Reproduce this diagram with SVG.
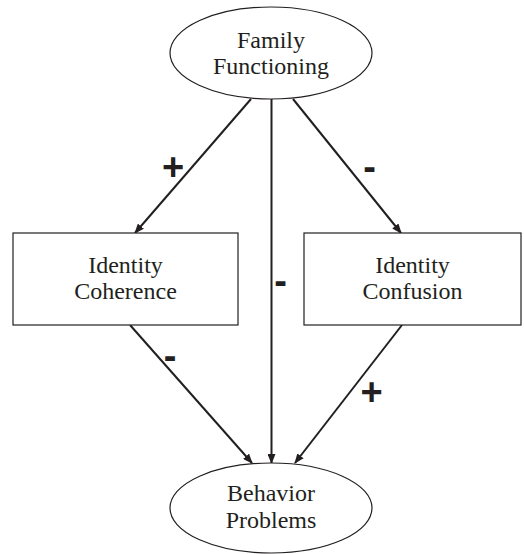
<svg xmlns="http://www.w3.org/2000/svg" width="524" height="554" viewBox="0 0 524 554">
<style>
.shape{fill:#fff;stroke:#231f20;stroke-width:1.2}
.lbl{font-family:"Liberation Serif","Times New Roman",serif;font-size:24px;fill:#231f20;text-anchor:middle}
.sign{font-family:"Liberation Sans",Arial,sans-serif;font-weight:bold;font-size:38px;fill:#231f20;text-anchor:middle}
.conn{stroke:#231f20;stroke-width:2;fill:none;marker-end:url(#ah)}
</style>
<defs>
<marker id="ah" markerWidth="10" markerHeight="8" refX="9" refY="4" orient="auto" markerUnits="userSpaceOnUse">
<path d="M0,0 L10,4 L0,8 Z" fill="#231f20"/>
</marker>
</defs>
<rect width="524" height="554" fill="#fff"/>
<g id="connectors">
<line class="conn" x1="251" y1="99" x2="135" y2="233"/>
<line class="conn" x1="271.5" y1="99" x2="271.5" y2="463"/>
<line class="conn" x1="293" y1="99" x2="401" y2="233"/>
<line class="conn" x1="130" y1="325" x2="252" y2="463"/>
<line class="conn" x1="402" y1="325" x2="295" y2="463"/>
</g>
<g id="labels">
<text class="sign" x="173" y="180">+</text>
<text class="sign" x="369.5" y="180">-</text>
<text class="sign" x="280.5" y="294">-</text>
<text class="sign" x="170" y="369">-</text>
<text class="sign" x="371.5" y="405">+</text>
</g>
<g id="family">
<ellipse class="shape" cx="271" cy="53" rx="101" ry="46"/>
<text class="lbl" x="271" y="48">Family</text>
<text class="lbl" x="271" y="74">Functioning</text>
</g>
<g id="coherence">
<rect class="shape" x="13" y="233" width="225" height="92"/>
<text class="lbl" x="125.5" y="273">Identity</text>
<text class="lbl" x="125.5" y="299">Coherence</text>
</g>
<g id="confusion">
<rect class="shape" x="304" y="233" width="217" height="92"/>
<text class="lbl" x="412.5" y="273">Identity</text>
<text class="lbl" x="412.5" y="299">Confusion</text>
</g>
<g id="behavior">
<ellipse class="shape" cx="271" cy="508" rx="101" ry="45"/>
<text class="lbl" x="271" y="501">Behavior</text>
<text class="lbl" x="271" y="528">Problems</text>
</g>
</svg>
